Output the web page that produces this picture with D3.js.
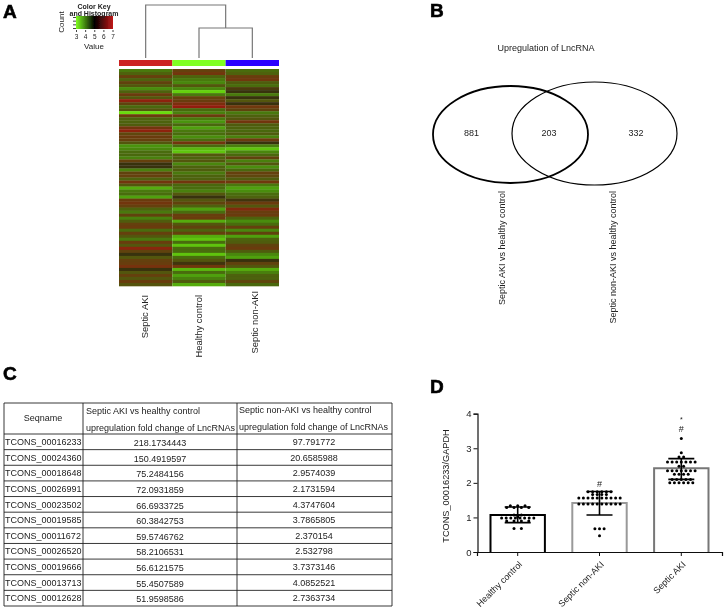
<!DOCTYPE html>
<html><head><meta charset="utf-8">
<script src="https://d3js.org/d3.v7.min.js"></script>
<style>html,body{margin:0;padding:0;background:#fff}svg{display:block}text{font-family:"Liberation Sans",Arial,sans-serif}</style>
</head><body><svg id="c" width="725" height="613"></svg>
<script>
// ---------- Panel A data
const heatColumns = ["Septic AKI","Healthy control","Septic non-AKI"];
const heatColumnColors = ["#cc2020","#80ff20","#2a00ff"];
const dendroMergeHeights = [0.566, 1];
const keyTicks = [3,4,5,6,7];
const septicAKIRows = [4.0,4.4,5.6,4.4,5.5,4.6,3.7,4.4,5.8,4.6,6.6,5.5,4.3,4.6,3.0,5.8,4.4,4.4,4.5,6.0,
 6.6,5.4,5.8,5.6,4.6,3.6,3.8,4.2,4.3,3.9,5.6,5.0,5.0,3.9,5.5,5.6,4.4,6.0,4.6,3.4,
 4.0,4.2,3.5,5.8,6.0,5.6,4.4,4.0,5.5,3.9,4.5,5.6,5.8,4.2,5.6,4.6,4.0,5.7,4.6,6.5,
 5.5,5.0,4.6,5.6,5.7,6.1,5.0,4.6,5.6,4.6,5.7,4.7];
const healthyRows = [5.6,6.0,4.4,4.0,3.8,4.6,3.8,3.1,4.0,5.6,5.7,6.2,6.7,4.3,3.9,5.8,4.0,3.6,4.3,3.5,
 4.0,4.2,3.7,4.2,6.0,4.2,3.3,3.2,4.6,4.4,4.6,3.8,4.4,4.5,4.0,4.4,4.4,6.0,4.3,4.2,
 3.9,4.6,5.0,4.6,5.5,4.4,3.5,4.2,5.7,5.8,3.4,4.6,5.5,4.4,5.6,3.4,3.2,4.2,3.2,4.2,
 4.2,3.2,4.2,4.6,5.1,5.9,3.3,4.2,3.5,3.9,4.5,3.4];
const nonAKIRows = [4.2,4.4,5.7,5.9,4.5,4.2,5.2,5.0,4.0,5.0,4.6,5.0,5.9,5.5,4.0,4.4,4.6,6.0,4.5,4.4,
 4.3,4.5,3.9,5.8,5.0,3.9,3.2,3.8,4.3,5.5,3.9,4.6,3.7,4.3,5.6,5.4,4.5,5.9,4.0,3.5,
 3.7,4.2,4.4,5.1,5.8,4.6,6.3,5.7,5.8,4.4,3.7,4.2,5.6,3.8,5.5,3.5,4.4,4.5,5.5,5.8,
 4.5,3.8,3.5,5.0,5.5,4.6,3.4,3.9,4.4,4.4,5.4,4.3];

// ---------- Panel B data
const vennTitle = "Upregulation of LncRNA";
const vennCounts = [881,203,332];
const vennLabels = ["Septic AKI vs healthy control","Septic non-AKI vs healthy control"];

// ---------- Panel C data
const tableHeader = ["Seqname","Septic AKI vs healthy control|upregulation fold change of LncRNAs","Septic non-AKI vs healthy control|upregulation fold change of LncRNAs"];
const seqNames = ["TCONS_00016233","TCONS_00024360","TCONS_00018648","TCONS_00026991","TCONS_00023502","TCONS_00019585","TCONS_00011672","TCONS_00026520","TCONS_00019666","TCONS_00013713","TCONS_00012628"];
const aKIFold = ["218.1734443","150.4919597","75.2484156","72.0931859","66.6933725","60.3842753","59.5746762","58.2106531","56.6121575","55.4507589","51.9598586"];
const nonAKIFold = ["97.791772","20.6585988","2.9574039","2.1731594","4.3747604","3.7865805","2.370154","2.532798","3.7373146","4.0852521","2.7363734"];

// ---------- Panel D data
const barGroups = ["Healthy control","Septic non-AKI","Septic AKI"];
const barMeans = [1.07,1.42,2.42];
const errLow = [0.85,1.07,2.1];
const errHigh = [1.3,1.75,2.7];
const barStrokes = ["#000000","#999999","#777777"];
const yTicks = [0,1,2,3,4];
const healthyPoints = [1.34,1.34,1.34,1.29,1.29,1.29,1.29,1.07,1.07,1.02,0.98,0.98,0.98,0.98,0.98,0.98,0.98,0.98,0.9,0.9,0.9,0.9,0.68,0.68];
const nonAKIPoints = [1.74,1.74,1.74,1.74,1.74,1.74,1.66,1.66,1.66,1.66,1.56,1.56,1.56,1.56,1.56,1.56,1.56,1.56,1.56,1.56,1.39,1.39,1.39,1.39,1.39,1.39,1.39,1.39,1.39,1.39,0.67,0.67,0.67,0.47];
const aKIPoints = [3.28,2.87,2.75,2.75,2.6,2.6,2.6,2.6,2.6,2.6,2.6,2.48,2.48,2.35,2.35,2.35,2.35,2.35,2.35,2.35,2.25,2.25,2.25,2.25,2.1,2.1,2.1,2.1,2.1,2.0,2.0,2.0,2.0,2.0,2.0];
const sigMarks = [{g:1,v:1.98,t:"#"},{g:2,v:3.55,t:"#"},{g:2,v:3.85,t:"*"}];

const svg = d3.select("#c").append("g").attr("filter","url(#page)");
const ink = "#222";
const defs = d3.select("#c").append("defs");
defs.append("filter").attr("id","page").attr("filterUnits","userSpaceOnUse").attr("x",0).attr("y",0).attr("width",725).attr("height",613).append("feGaussianBlur").attr("stdDeviation",0.38);
defs.append("filter").attr("id","soft").append("feGaussianBlur").attr("stdDeviation",0.45);
svg.append("rect").attr("width",725).attr("height",613).attr("fill","#fff");
const grad = defs.append("linearGradient").attr("id","key");
const keyColor = d3.scaleLinear().domain([3,5,7]).range(["#7fff20","#000000","#c01818"]);
d3.range(3,7.01,0.5).forEach(v=>grad.append("stop").attr("offset",(v-3)/4).attr("stop-color",keyColor(v)));

// panel letters
[["A",3,18],["B",430,17],["C",3,380],["D",430,393]].forEach(([t,x,y])=>
  svg.append("text").attr("x",x).attr("y",y).attr("font-size",19).attr("font-weight","bold").attr("fill","#000").attr("stroke","#000").attr("stroke-width",0.6).text(t));

// ========= Panel A
const hx = d3.scaleBand().domain(heatColumns).range([119,279]);
const rowCount = septicAKIRows.length;
const hy = d3.scaleBand().domain(d3.range(rowCount)).range([69,286]);
const heatColor = d3.scaleLinear()
  .domain([3,3.6,4.2,4.7,5,5.4,6,7])
  .range(["#6adc10","#4a9410","#486c10","#54520f","#38300a","#5e4610","#723610","#a01410"]);
const heatRows = [septicAKIRows,healthyRows,nonAKIRows];
const gh = svg.append("g").attr("filter","url(#soft)");
heatRows.forEach((vals,c)=>{
  gh.selectAll(null).data(vals).join("rect")
    .attr("x",hx(heatColumns[c])).attr("width",hx.bandwidth())
    .attr("y",(d,i)=>hy(i)).attr("height",hy.bandwidth()+0.3)
    .attr("fill",d=>heatColor(d));
});
svg.selectAll(null).data(heatColumns).join("rect")
  .attr("x",d=>hx(d)).attr("width",hx.bandwidth()).attr("y",60).attr("height",6)
  .attr("fill",(d,i)=>heatColumnColors[i]);
const hLabelY = [295,295,291];
const hLabelX = [148,202,258];
heatColumns.forEach((t,i)=>{
  svg.append("text").attr("transform",`translate(${hLabelX[i]},${hLabelY[i]}) rotate(-90)`)
    .attr("text-anchor","end").attr("font-size",9.4).attr("fill",ink).text(t);
});
// dendrogram
const dh = d3.scaleLinear().domain([0,1]).range([58,5]);
const centers = heatColumns.map(d=>hx(d)+hx.bandwidth()/2);
const inner = (centers[1]+centers[2])/2;
const dendro = d3.path();
dendro.moveTo(centers[1],dh(0));dendro.lineTo(centers[1],dh(dendroMergeHeights[0]));dendro.lineTo(centers[2],dh(dendroMergeHeights[0]));dendro.lineTo(centers[2],dh(0));
dendro.moveTo(centers[0],dh(0));dendro.lineTo(centers[0],dh(dendroMergeHeights[1]));dendro.lineTo(inner,dh(dendroMergeHeights[1]));dendro.lineTo(inner,dh(dendroMergeHeights[0]));
svg.append("path").attr("d",dendro.toString()).attr("fill","none").attr("stroke","#777").attr("stroke-width",1.2);
// colour key
const kx = d3.scaleLinear().domain([3,7]).range([76,112.5]);
svg.append("rect").attr("x",76).attr("y",16).attr("width",37).attr("height",13).attr("fill","url(#key)").attr("filter","url(#soft)");
const kAxis = svg.append("g").attr("transform","translate(0,30)")
  .call(d3.axisBottom(kx).tickValues(keyTicks).tickSize(2).tickPadding(2).tickFormat(d3.format("d")));
kAxis.select(".domain").remove();
kAxis.selectAll("text").attr("font-size",6.5).attr("fill",ink).attr("font-family",null);
kAxis.selectAll("line").attr("stroke","#444");
svg.append("text").attr("x",94).attr("y",8.5).attr("text-anchor","middle").attr("font-size",7).attr("font-weight","bold").attr("fill",ink).text("Color Key");
svg.append("text").attr("x",94).attr("y",16).attr("text-anchor","middle").attr("font-size",7).attr("font-weight","bold").attr("fill",ink).text("and Histogram");
svg.append("text").attr("x",94).attr("y",49).attr("text-anchor","middle").attr("font-size",8).attr("fill",ink).text("Value");
svg.append("text").attr("transform","translate(64,22) rotate(-90)").attr("text-anchor","middle").attr("font-size",8).attr("fill",ink).text("Count");
const kc = d3.scaleLinear().domain([0,3]).range([28,17]);
svg.append("g").attr("transform","translate(76,0)").call(d3.axisLeft(kc).ticks(3).tickSize(3).tickFormat(""))
  .call(g=>g.select(".domain").remove()).selectAll("line").attr("stroke","#444");

// ========= Panel B
svg.append("text").attr("x",546).attr("y",51).attr("text-anchor","middle").attr("font-size",9).attr("fill",ink).text(vennTitle);
svg.append("ellipse").attr("cx",510.5).attr("cy",134.5).attr("rx",77.5).attr("ry",48.5).attr("fill","none").attr("stroke","#000").attr("stroke-width",1.8);
svg.append("ellipse").attr("cx",594.5).attr("cy",133.5).attr("rx",82.5).attr("ry",51.5).attr("fill","none").attr("stroke","#000").attr("stroke-width",1.2);
const vennX = [471.5,549,636];
vennCounts.forEach((c,i)=>svg.append("text").attr("x",vennX[i]).attr("y",136).attr("text-anchor","middle").attr("font-size",9).attr("fill",ink).text(c));
const vennLX = [505,616];
vennLabels.forEach((t,i)=>svg.append("text").attr("transform",`translate(${vennLX[i]},191) rotate(-90)`).attr("text-anchor","end").attr("font-size",9).attr("fill",ink).text(t));

// ========= Panel C
const colEdges = [4,83,237,392];
const headerTop = 403, rowsTop = 434, rowsBottom = 606;
const ty = d3.scaleBand().domain(seqNames).range([rowsTop,rowsBottom]);
const gt = svg.append("g");
const rule = (x1,y1,x2,y2)=>gt.append("line").attr("x1",x1).attr("y1",y1).attr("x2",x2).attr("y2",y2).attr("stroke","#222").attr("stroke-width",0.9);
colEdges.forEach(x=>rule(x,headerTop,x,rowsBottom));
rule(colEdges[0],headerTop,colEdges[3],headerTop);
rule(colEdges[0],rowsTop,colEdges[3],rowsTop);
seqNames.forEach(s=>rule(colEdges[0],ty(s)+ty.bandwidth(),colEdges[3],ty(s)+ty.bandwidth()));
gt.append("text").attr("x",43).attr("y",421).attr("text-anchor","middle").attr("font-size",9).attr("fill",ink).text(tableHeader[0]);
[1,2].forEach(c=>tableHeader[c].split("|").forEach((l,j)=>
  gt.append("text").attr("x",colEdges[c]+(c==1?3:2)).attr("y",(c==1?414:413)+j*16.5).attr("font-size",9).attr("fill",ink).text(l)));
seqNames.forEach((s,i)=>{
  const y = ty(s)+ty.bandwidth()/2+3.2;
  gt.append("text").attr("x",5).attr("y",y).attr("font-size",9).attr("fill",ink).text(s);
  gt.append("text").attr("x",160).attr("y",y+1).attr("text-anchor","middle").attr("font-size",9).attr("fill",ink).text(aKIFold[i]);
  gt.append("text").attr("x",314).attr("y",y).attr("text-anchor","middle").attr("font-size",9).attr("fill",ink).text(nonAKIFold[i]);
});

// ========= Panel D
const by = d3.scaleLinear().domain([0,4]).range([552,413.7]);
const bx = d3.scaleBand().domain(barGroups).range([477,722]).paddingInner(0.335).paddingOuter(0.165);
const gd = svg.append("g");
barGroups.forEach((g,i)=>{
  gd.append("path").attr("d",`M${bx(g)},${by(0)}V${by(barMeans[i])}H${bx(g)+bx.bandwidth()}V${by(0)}`)
    .attr("fill","#fff").attr("stroke",barStrokes[i]).attr("stroke-width",2);
});
const xA = d3.axisBottom(bx).tickSize(4).tickFormat("");
const yA = d3.axisLeft(by).tickValues(yTicks).tickSize(4).tickPadding(2).tickFormat(d3.format("d"));
const gx = gd.append("g").attr("transform",`translate(0,${by(0)})`).call(xA);
gx.select(".domain").attr("stroke-width",1.2).attr("stroke","#111");
gx.selectAll("line").attr("stroke","#111");
const gy = gd.append("g").attr("transform","translate(477.5,0)").call(yA);
gy.select(".domain").attr("stroke-width",1.2).attr("stroke","#111");
gy.selectAll("line").attr("stroke","#111");
gy.selectAll("text").attr("font-size",9.5).attr("fill",ink).attr("font-family",null);
gd.append("text").attr("transform","translate(449,486) rotate(-90)").attr("text-anchor","middle").attr("font-size",9.2).attr("fill",ink).text("TCONS_00016233/GAPDH");
barGroups.forEach(g=>{
  gd.append("text").attr("transform",`translate(${bx(g)+bx.bandwidth()/2+5},${by(0)+13}) rotate(-45)`).attr("text-anchor","end").attr("font-size",9).attr("fill",ink).text(g);
});
const pointSets = [healthyPoints,nonAKIPoints,aKIPoints];
const swarmStep = 4.6;
pointSets.forEach((pts,i)=>{
  const cx = bx(barGroups[i])+bx.bandwidth()/2;
  d3.group(pts,d=>d).forEach((vals,v)=>{
    vals.forEach((_,k)=>{
      gd.append("circle").attr("cx",cx+(k-(vals.length-1)/2)*swarmStep*(i==0&&vals.length<5?1.6:1)).attr("cy",by(v)).attr("r",1.5).attr("fill","#000");
    });
  });
  gd.append("path").attr("d",`M${cx-13},${by(errHigh[i])}H${cx+13}M${cx},${by(errHigh[i])}V${by(errLow[i])}M${cx-13},${by(errLow[i])}H${cx+13}`)
    .attr("fill","none").attr("stroke","#000").attr("stroke-width",1.6);
});
sigMarks.forEach(m=>{
  const cx = bx(barGroups[m.g])+bx.bandwidth()/2;
  gd.append("text").attr("x",cx).attr("y",by(m.v)+3).attr("text-anchor","middle").attr("font-size",m.t=="#"?9:7).attr("fill",ink).text(m.t);
});
</script></body></html>
